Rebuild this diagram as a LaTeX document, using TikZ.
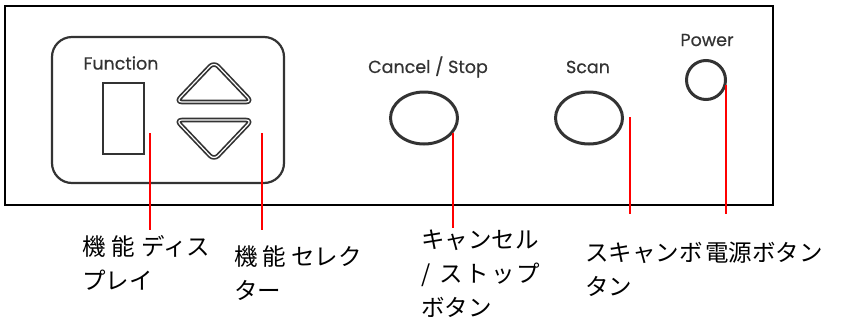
\documentclass[tikz,border=0pt]{standalone}
\usepackage{fontspec}
\setmainfont{Poppins}[FakeBold=0.6]
\newfontfamily\cjk{Noto Sans CJK JP}
\usetikzlibrary{shapes.geometric}
\definecolor{ink}{HTML}{333333}
\tikzset{
  frame/.style={draw=black,line width=2pt},
  panel/.style={draw=ink,line width=2.2pt,rounded corners=20pt},
  btnlabel/.style={text=ink,font=\fontsize{17.5}{20}\selectfont,inner sep=0pt},
  ring/.style={draw=ink,line width=3pt},
  arrowkey/.style={draw=ink,line width=1.7pt,double=white,double distance=1.2pt,rounded corners=6pt,line join=round},
  leader/.style={draw=red,line width=1.5pt},
  jlabel/.style={anchor=north west,inner sep=0pt,align=left,font=\cjk\fontsize{23.5}{34}\selectfont}
}
\begin{document}
\begin{tikzpicture}[x=1pt,y=-1pt]
\useasboundingbox (0,0) rectangle (842,322);
% outer frame
\draw[frame] (5,6) rectangle (773,205);
% function panel
\draw[panel] (52,37) rectangle (284,183);
\node[btnlabel] (func) at (121,63) {Function};
\draw[ink,line width=1.6pt] (103,83) rectangle (144,154);
\draw[arrowkey] (214,62) -- (252,102) -- (176,102) -- cycle;
\draw[arrowkey] (176,120) -- (252,120) -- (214,160) -- cycle;
% buttons
\node[btnlabel] (cancel) at (428,67) {Cancel / Stop};
\node[ring,ellipse,minimum width=67pt,minimum height=52pt,inner sep=0pt] (cbtn) at (424,118) {};
\node[btnlabel] (scan) at (588,67) {Scan};
\node[ring,ellipse,minimum width=67pt,minimum height=52pt,inner sep=0pt] (sbtn) at (589,118) {};
\node[btnlabel] (power) at (707,40) {Power};
\node[ring,circle,minimum size=39pt,inner sep=0pt] (pbtn) at (706,80) {};
% leader coordinates
\coordinate (a1) at (150,133); \coordinate (b1) at (150,230);
\coordinate (a2) at (262,133); \coordinate (b2) at (262,230);
\coordinate (a3) at (453,133); \coordinate (b3) at (453,228);
\coordinate (a4) at (630,117); \coordinate (b4) at (630,214);
\coordinate (a5) at (726,85);  \coordinate (b5) at (726,214);
\draw[leader] (a1) -- (b1);
\draw[leader] (a2) -- (b2);
\draw[leader] (a3) -- (b3);
\draw[leader] (a4) -- (b4);
\draw[leader] (a5) -- (b5);
% labels
\node[jlabel] (l1) at (82,235) {機\kern6pt 能\kern6pt ディス\\プレイ};
\node[jlabel] (l2) at (234,246) {機\kern5pt 能\kern5pt セレク\\ター};
\node[jlabel] (l3) at (421,230) {キャンセル\\/\kern9pt ス\kern3pt ト\kern2pt ッ\kern2pt プ\\ボタン};
\node[jlabel] (l4) at (585,242) {スキャンボ\\タン};
\node[jlabel] (l5) at (705,242) {電源ボタン};
\end{tikzpicture}
\end{document}
